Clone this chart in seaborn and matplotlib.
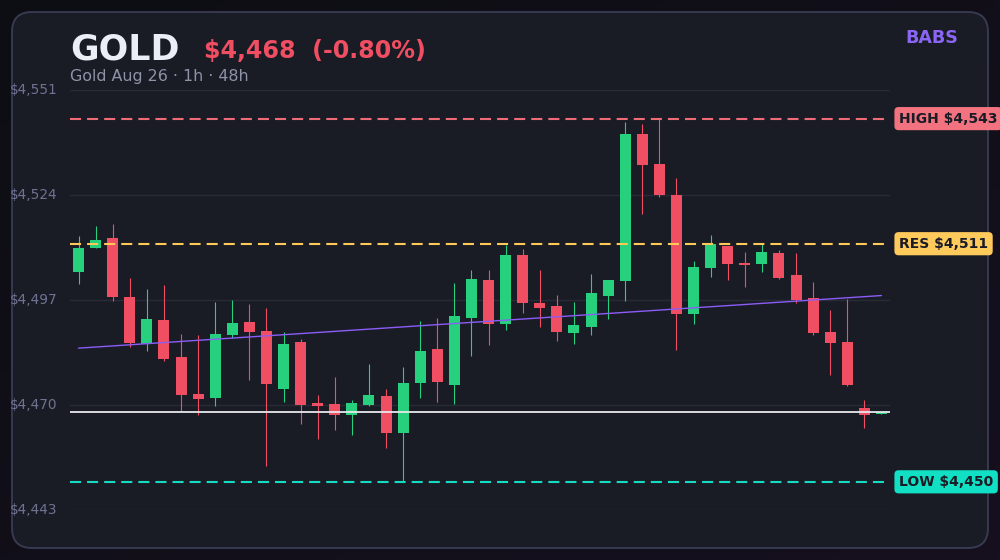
import numpy as np
import pandas as pd
import seaborn as sns
import matplotlib
matplotlib.use("Agg")
import matplotlib.pyplot as plt
import matplotlib.transforms as mtransforms
from matplotlib.patches import FancyBboxPatch

# ---------------- data ----------------
opens = [4503.8, 4510.0, 4512.5, 4497.3, 4485.3, 4491.4, 4481.9, 4472.4, 4471.5, 4487.6,
         4490.9, 4488.6, 4473.8, 4485.8, 4470.2, 4469.9, 4467.1, 4469.6, 4471.9, 4462.5,
         4475.3, 4484.0, 4474.8, 4492.0, 4501.7, 4490.5, 4508.1, 4495.8, 4495.0, 4488.2,
         4489.7, 4497.7, 4501.5, 4539.2, 4531.5, 4523.5, 4493.0, 4504.8, 4510.4, 4506.0,
         4505.9, 4508.6, 4503.0, 4497.1, 4488.3, 4485.8, 4468.8, 4467.3]
highs = [4513.0, 4515.5, 4516.1, 4502.2, 4499.4, 4500.4, 4487.8, 4487.6, 4496.0, 4496.6,
         4495.5, 4494.5, 4488.3, 4486.5, 4472.2, 4476.8, 4470.9, 4480.1, 4473.7, 4479.4,
         4491.2, 4491.9, 4500.9, 4504.3, 4504.3, 4510.7, 4509.6, 4504.3, 4497.8, 4496.0,
         4503.2, 4501.7, 4542.2, 4541.7, 4543.1, 4527.9, 4506.6, 4513.2, 4510.5, 4508.9,
         4511.2, 4509.4, 4508.6, 4501.2, 4494.0, 4496.9, 4470.9, 4467.9]
lows = [4500.7, 4509.8, 4496.4, 4484.6, 4483.5, 4481.0, 4468.1, 4467.1, 4469.4, 4486.8,
        4476.1, 4454.0, 4470.5, 4464.8, 4461.0, 4463.3, 4462.0, 4469.4, 4458.6, 4449.9,
        4471.5, 4470.5, 4469.9, 4482.3, 4485.1, 4488.9, 4493.3, 4489.7, 4486.1, 4485.3,
        4487.6, 4491.8, 4496.4, 4518.7, 4523.1, 4483.8, 4490.5, 4502.5, 4501.8, 4500.0,
        4503.8, 4502.0, 4495.9, 4487.6, 4477.4, 4474.6, 4463.8, 4467.2]
closes = [4509.9, 4511.9, 4497.4, 4485.6, 4491.7, 4481.5, 4472.3, 4471.2, 4487.8, 4490.6,
          4488.4, 4475.1, 4485.3, 4469.7, 4469.4, 4467.1, 4470.1, 4472.2, 4462.5, 4475.3,
          4483.5, 4475.5, 4492.4, 4501.9, 4490.5, 4508.1, 4495.9, 4494.6, 4488.4, 4490.1,
          4498.3, 4501.7, 4539.2, 4531.3, 4523.6, 4493.0, 4505.0, 4510.9, 4505.9, 4505.6,
          4508.9, 4502.3, 4496.6, 4488.2, 4485.6, 4474.8, 4467.1, 4467.7]
res_level = 4511.0
trend_idx = [0, 47]
trend_val = [4484.2, 4497.7]
ytick_labels = ["$4,443", "$4,470", "$4,497", "$4,524", "$4,551"]
symbol = "GOLD"
subtitle = "Gold Aug 26 · 1h · 48h"
brand = "BABS"

df = pd.DataFrame({"o": opens, "h": highs, "l": lows, "c": closes})
df["i"] = np.arange(len(df))
high_v = df["h"].max()
low_v = df["l"].min()
last = df["c"].iloc[-1]
chg = (last / df["o"].iloc[0] - 1) * 100

# ---------------- style ----------------
sns.set_theme(style="dark")
plt.rcParams["font.family"] = ["DejaVu Sans"]

GREEN = "#26d07c"
RED = "#f04e62"
CARD = "#1a1c25"

W, H = 1000, 560
fig = plt.figure(figsize=(10, 5.6), dpi=100)
fig.patch.set_facecolor("#101016")

def fx(px):
    return px / W

def fy(py):
    return 1 - py / H

# background + card (pixel coords)
bg = fig.add_axes([0, 0, 1, 1], zorder=-1)
bg.set_xlim(0, W)
bg.set_ylim(H, 0)
bg.axis("off")
c1 = np.array([0x0d, 0x0e, 0x13]) / 255
c2 = np.array([0x16, 0x10, 0x1f]) / 255
gx, gy = np.meshgrid(np.linspace(0, 1, 200), np.linspace(0, 1, 112))
t = ((gx + gy) / 2)[..., None]
bg.imshow(c1 * (1 - t) + c2 * t, extent=[0, W, H, 0], aspect="auto", zorder=0)
bg.add_patch(FancyBboxPatch((12, 12), 976, 536, boxstyle="round,pad=0,rounding_size=20",
                            facecolor=CARD, edgecolor="#393c53", lw=1.3, zorder=1))

# main axes
ax = fig.add_axes([fx(70), 50 / H, 820 / W, 420 / H], zorder=2)
ax.set_facecolor("none")
ylo, yhi = 4442.67, 4550.44
ax.set_xlim(-0.5, len(df) - 0.5)
ax.set_ylim(ylo, yhi)
yt = np.linspace(ylo, yhi, 5)
ax.set_yticks(yt)
ax.set_xticks([])
ax.tick_params(left=False, labelleft=False, bottom=False, labelbottom=False)
ax.yaxis.grid(True, color="#272a37", lw=1.0)
ax.xaxis.grid(False)
for s in ax.spines.values():
    s.set_visible(False)

# candles
up = df["c"] >= df["o"]
cols = np.where(up, GREEN, RED)
ax.vlines(df["i"], df["l"], df["h"], colors=cols, lw=0.8, zorder=2)
body = np.maximum((df["c"] - df["o"]).abs(), 0.3)
ax.bar(df["i"], body, bottom=np.minimum(df["o"], df["c"]), width=0.64,
       color=cols, linewidth=0, zorder=3)

# level lines
ax.axhline(high_v, color="#f06b79", lw=1.5, dashes=(5.3, 2.9), zorder=4)
ax.axhline(res_level, color="#ffc857", lw=1.5, dashes=(5.3, 2.9), zorder=4)
ax.axhline(low_v, color="#14dcc4", lw=1.5, dashes=(5.3, 2.9), zorder=4)
ax.axhline(last, color="#e8e8ee", lw=1.3, zorder=5)
sns.lineplot(x=trend_idx, y=trend_val, ax=ax, color="#8b5cf6", lw=1.0, zorder=5)

# y labels (left aligned near card edge)
ytr = mtransforms.blended_transform_factory(fig.transFigure, ax.transData)
for v, lab in zip(yt, ytick_labels):
    fig.text(fx(10), v, lab, transform=ytr, ha="left", va="center",
             color="#6f7392", fontsize=9.8, parse_math=False)

# right side level tags
for v, lab, fc in [(high_v, f"HIGH ${high_v:,.0f}", "#f2737f"),
                   (res_level, f"RES ${res_level:,.0f}", "#ffca5c"),
                   (low_v, f"LOW ${low_v:,.0f}", "#12e0c5")]:
    fig.text(fx(899), v, lab, transform=ytr, ha="left", va="center",
             color=CARD, fontsize=10, fontweight="bold", parse_math=False,
             bbox=dict(boxstyle="round,pad=0.33,rounding_size=0.3", fc=fc, ec="none"))

# header
fig.text(fx(70), fy(59.3), symbol, ha="left", va="baseline", color="#eceef6",
         fontsize=25, fontweight="bold")
fig.text(fx(204), fy(58.3), f"${last:,.0f}  ({chg:+.2f}%)", ha="left", va="baseline",
         color=RED, fontsize=17.1, fontweight="bold", parse_math=False)
fig.text(fx(70), fy(80.7), subtitle, ha="left", va="baseline", color="#8f93a8",
         fontsize=11.4)
fig.text(fx(958), fy(42.7), brand, ha="right", va="baseline", color="#8b66f5",
         fontsize=12.6, fontweight="bold")

fig.savefig("out.png", dpi=100, facecolor=fig.get_facecolor())
